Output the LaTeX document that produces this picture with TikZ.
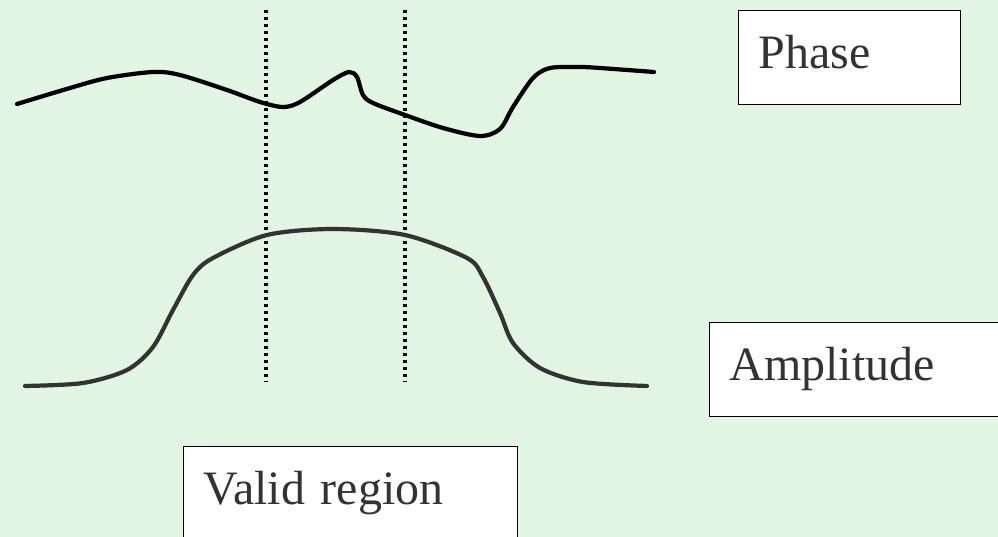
\documentclass[tikz,border=0pt]{standalone}
\usepackage{fontspec}
\newfontfamily\timesface{LiberationSerif}[Extension=.ttf,UprightFont=*-Regular]
\usetikzlibrary{positioning}
\definecolor{paleleaf}{RGB}{226,245,226}
\definecolor{graphite}{RGB}{51,51,51}
\tikzset{
  labelbox/.style={draw=black,line width=0.8pt,fill=white,anchor=north west,
    inner xsep=0.4cm,inner ysep=0pt,minimum height=1.88cm,align=left,
    text height=0.7cm,text depth=0.26cm,text=graphite,
    font=\timesface\fontsize{27.3}{32}\selectfont,text width=#1},
  labelbox/.default=3.64cm,
  trace/.style={line width=2.4pt,line cap=round,line join=round,draw=#1},
  trace/.default=black,
  marker/.style={line width=2.2pt,dash pattern=on 0.07cm off 0.07cm},
}
\begin{document}
\begin{tikzpicture}[x=0.02cm,y=-0.02cm]
  \clip (0,0) rectangle (998,537);
  \fill[paleleaf] (0,0) rectangle (998,537);
  % boundaries of the valid region
  \coordinate (lefttop) at (266,10);
  \coordinate (leftbot) at (266,382);
  \coordinate (righttop) at (405,10);
  \coordinate (rightbot) at (405,382);
  \draw[marker] (lefttop) -- (leftbot);
  \draw[marker] (righttop) -- (rightbot);
  % phase trace
  \draw[trace] plot[smooth,tension=0.5] coordinates {
    (17,104) (70,88) (107,78) (153,72) (180,75) (227,90) (260,102) (283,107)
    (300,102) (333,80) (349,72) (357,77) (363,95) (373,103) (405,115)
    (443,128) (480,136) (500,129) (513,107) (533,78) (550,68) (580,67)
    (600,68) (654,72)};
  % amplitude trace
  \draw[trace=graphite] plot[smooth,tension=0.5] coordinates {
    (25,386) (83,383) (127,370) (153,347) (173,310) (193,275) (213,258)
    (267,235) (333,229) (405,235) (467,258) (483,277) (500,313) (513,343)
    (540,368) (583,382) (647,386)};
  % labels
  \node[labelbox] (phase) at (738,10) {Phase};
  \node[labelbox=5.2cm] (amplitude) at (709,322) {Amplitude};
  \node[labelbox=5.88cm] (valid) at (183,446) {Valid region};
\end{tikzpicture}
\end{document}
